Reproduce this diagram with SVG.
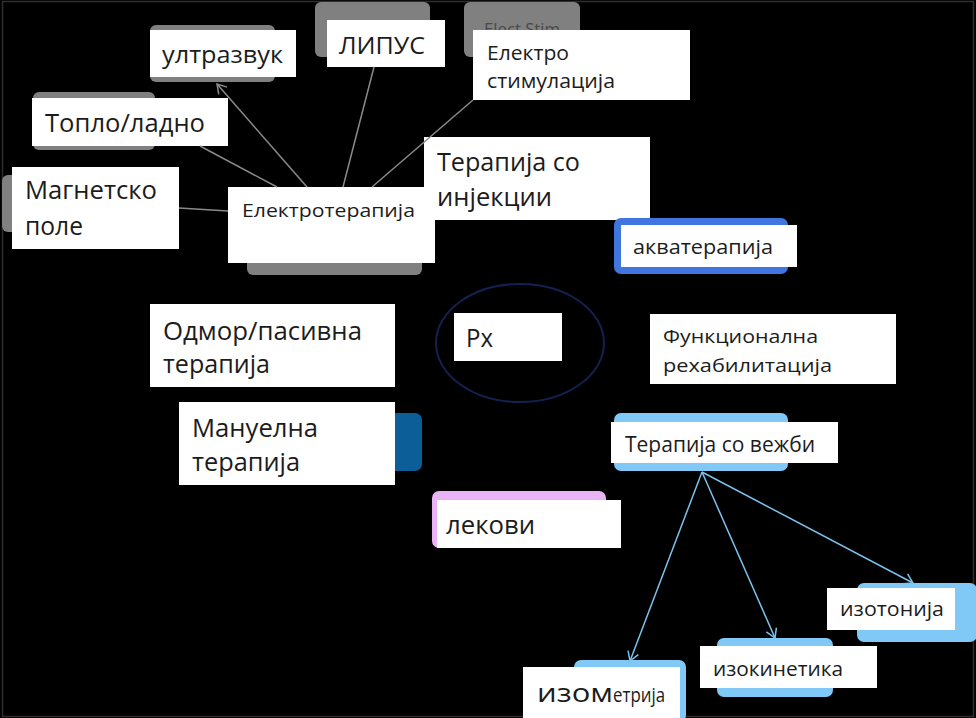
<svg xmlns="http://www.w3.org/2000/svg" width="976" height="718" viewBox="0 0 976 718">
<style>
.t{font-family:"Open Sans","Noto Sans","DejaVu Sans",sans-serif;fill:#1c1c1c}
.w{fill:#ffffff}
.g{fill:#808080}
.lb{fill:#80c8f5}
.ln{stroke:#8a8a8a;stroke-width:1.5;fill:none}
.bl{stroke:#7cc2ee;stroke-width:1.5;fill:none}
</style>
<defs>
<marker id="ag" markerWidth="14" markerHeight="14" refX="11" refY="7" orient="auto" markerUnits="userSpaceOnUse"><path d="M2,1.5 L11,7 L2,12.5" fill="none" stroke="#8a8a8a" stroke-width="1.5"/></marker>
<marker id="ab" markerWidth="14" markerHeight="14" refX="11" refY="7" orient="auto" markerUnits="userSpaceOnUse"><path d="M2,1.5 L11,7 L2,12.5" fill="none" stroke="#7cc2ee" stroke-width="1.5"/></marker>
</defs>
<rect x="0" y="0" width="976" height="718" fill="#000"/>
<rect x="2.5" y="1.5" width="971" height="715" fill="none" stroke="#2e2e2e" stroke-width="1.5"/>

<g id="node-ultrazvuk">
<rect class="g" x="150" y="25" width="125" height="57" rx="6"/>
<rect class="w" x="150" y="30" width="146" height="47"/>
<text class="t" x="162" y="63" font-size="24" textLength="121" lengthAdjust="spacingAndGlyphs">ултразвук</text>
</g>
<g id="node-lipus">
<rect class="g" x="315" y="2" width="115" height="55" rx="6"/>
<rect class="w" x="327" y="20" width="118" height="47"/>
<text class="t" x="339" y="54" font-size="24" textLength="86" lengthAdjust="spacingAndGlyphs">ЛИПУС</text>
</g>
<g id="node-elektrostim">
<rect class="g" x="464" y="2" width="116" height="55" rx="6"/>
<text x="484" y="35" font-family="Open Sans, Noto Sans, sans-serif" font-size="16" fill="#4a4a4a" textLength="76" lengthAdjust="spacingAndGlyphs">Elect Stim</text>
<rect class="w" x="473" y="30" width="217" height="70"/>
<text class="t" x="487" y="60" font-size="20" textLength="82" lengthAdjust="spacingAndGlyphs">Електро</text>
<text class="t" x="487" y="88" font-size="20" textLength="128" lengthAdjust="spacingAndGlyphs">стимулација</text>
</g>
<g id="node-toplo">
<rect class="g" x="33" y="92" width="122" height="58" rx="6"/>
<rect class="w" x="32" y="98" width="196" height="48"/>
<text class="t" x="45" y="132" font-size="26" textLength="160" lengthAdjust="spacingAndGlyphs">Топло/ладно</text>
</g>
<g id="node-magnetsko">
<rect class="g" x="2" y="175" width="28" height="57" rx="6"/>
<rect class="w" x="12" y="167" width="167" height="82"/>
<text class="t" x="25" y="199" font-size="26" textLength="132" lengthAdjust="spacingAndGlyphs">Магнетско</text>
<text class="t" x="25" y="235" font-size="26" textLength="58" lengthAdjust="spacingAndGlyphs">поле</text>
</g>
<g id="node-elektroterapija">
<rect class="g" x="247" y="210" width="175" height="65" rx="6"/>
<rect class="w" x="228" y="187" width="207" height="76"/>
<text class="t" x="242" y="217" font-size="19" textLength="173" lengthAdjust="spacingAndGlyphs">Електротерапија</text>
</g>
<g id="node-injekcii">
<rect class="w" x="424" y="137" width="226" height="83"/>
<text class="t" x="437" y="171" font-size="26" textLength="143" lengthAdjust="spacingAndGlyphs">Терапија со</text>
<text class="t" x="437" y="206" font-size="26" textLength="115" lengthAdjust="spacingAndGlyphs">инјекции</text>
</g>
<g id="node-akvaterapija">
<rect x="614" y="218" width="174" height="56" rx="7" fill="#4175e0"/>
<rect class="w" x="621" y="225" width="176" height="42"/>
<text class="t" x="633" y="254" font-size="19.5" textLength="140" lengthAdjust="spacingAndGlyphs">акватерапија</text>
</g>
<g id="node-odmor">
<rect class="w" x="150" y="304" width="245" height="83"/>
<text class="t" x="163" y="340" font-size="25" textLength="199" lengthAdjust="spacingAndGlyphs">Одмор/пасивна</text>
<text class="t" x="163" y="373" font-size="25" textLength="107" lengthAdjust="spacingAndGlyphs">терапија</text>
</g>
<g id="node-px">
<ellipse cx="520" cy="343" rx="84" ry="59" fill="none" stroke="#142050" stroke-width="2"/>
<rect class="w" x="454" y="313" width="108" height="48"/>
<text class="t" x="466" y="347" font-size="25" textLength="27" lengthAdjust="spacingAndGlyphs">Px</text>
</g>
<g id="node-funkcionalna">
<rect class="w" x="650" y="314" width="246" height="70"/>
<text class="t" x="663" y="343" font-size="19" textLength="155" lengthAdjust="spacingAndGlyphs">Функционална</text>
<text class="t" x="663" y="372" font-size="19" textLength="169" lengthAdjust="spacingAndGlyphs">рехабилитација</text>
</g>
<g id="node-manuelna">
<rect x="300" y="413" width="122" height="58" rx="7" fill="#0b5e97"/>
<rect class="w" x="179" y="402" width="216" height="83"/>
<text class="t" x="192" y="437" font-size="25" textLength="126" lengthAdjust="spacingAndGlyphs">Мануелна</text>
<text class="t" x="192" y="471" font-size="25" textLength="108" lengthAdjust="spacingAndGlyphs">терапија</text>
</g>
<g id="node-vezbi">
<rect class="lb" x="614" y="413" width="174" height="58" rx="7"/>
<rect class="w" x="611" y="422" width="227" height="41"/>
<text class="t" x="625" y="452" font-size="21" textLength="190" lengthAdjust="spacingAndGlyphs">Терапија со вежби</text>
</g>
<g id="node-lekovi">
<rect x="432" y="491" width="174" height="57" rx="7" fill="#e9b3f5"/>
<rect class="w" x="437" y="500" width="184" height="48"/>
<text class="t" x="446" y="534" font-size="25" textLength="89" lengthAdjust="spacingAndGlyphs">лекови</text>
</g>
<g id="node-izotonija">
<rect class="lb" x="857" y="583" width="120" height="59" rx="7"/>
<rect class="w" x="827" y="588" width="128" height="42"/>
<text class="t" x="840" y="616" font-size="20" textLength="104" lengthAdjust="spacingAndGlyphs">изотонија</text>
</g>
<g id="node-izokinetika">
<rect class="lb" x="717" y="638" width="116" height="59" rx="7"/>
<rect class="w" x="700" y="646" width="177" height="42"/>
<text class="t" x="713" y="676" font-size="20" textLength="130" lengthAdjust="spacingAndGlyphs">изокинетика</text>
</g>
<g id="node-izometrija">
<rect class="lb" x="574" y="660" width="112" height="62" rx="7"/>
<rect class="w" x="523" y="667" width="157" height="51"/>
<text class="t" x="537" y="702"><tspan font-size="26" textLength="76" lengthAdjust="spacingAndGlyphs">изом</tspan><tspan font-size="20" textLength="52" lengthAdjust="spacingAndGlyphs">етрија</tspan></text>
</g>

<g id="connectors">
<line class="ln" x1="307" y1="187" x2="217" y2="84" marker-end="url(#ag)"/>
<line class="ln" x1="277" y1="187" x2="200" y2="146"/>
<line class="ln" x1="343" y1="187" x2="374" y2="67"/>
<line class="ln" x1="372" y1="187" x2="473" y2="100"/>
<line class="ln" x1="179" y1="208" x2="228" y2="211"/>
<line class="bl" x1="702" y1="472" x2="630" y2="661" marker-end="url(#ab)"/>
<line class="bl" x1="702" y1="472" x2="775" y2="638" marker-end="url(#ab)"/>
<line class="bl" x1="702" y1="472" x2="913" y2="583" marker-end="url(#ab)"/>
</g>
</svg>
